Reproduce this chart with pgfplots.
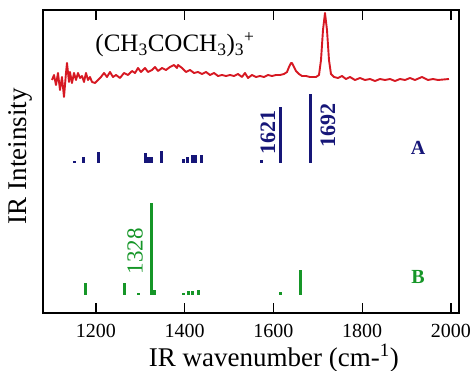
\documentclass[border=0pt]{standalone}
\usepackage{fontspec}
\setmainfont{Liberation Serif}
\usepackage{pgfplots}
\pgfplotsset{compat=1.18}
\definecolor{specred}{RGB}{214,24,34}
\definecolor{navyA}{RGB}{22,22,120}
\definecolor{greenB}{RGB}{22,150,40}
\begin{document}
\begin{tikzpicture}
\begin{axis}[
  scale only axis,
  width=416pt, height=303pt,
  xmin=1080.6, xmax=2018.1,
  ymin=0, ymax=303,
  axis line style={line width=1.4pt},
  xtick={1200,1400,1600,1800,2000},
  ytick=\empty,
  tick align=inside,
  xtick pos=both,
  major tick length=10pt,
  tick style={line width=1.2pt, black},
  /pgf/number format/assume math mode=true,
  /pgf/number format/1000 sep={},
  xticklabel style={font=\fontsize{20}{24}\selectfont, yshift=-8pt},
  xlabel={IR wavenumber (cm-\textsuperscript{1})},
  xlabel style={font=\fontsize{27}{32}\selectfont, at={(axis description cs:0.555,-0.149)}, anchor=center},
  ylabel={IR Inteinsity},
  ylabel style={font=\fontsize{27}{32}\selectfont, at={(axis description cs:-0.055,0.517)}, anchor=center},
  unbounded coords=jump,
  clip=false,
]
% measured spectrum
\addplot[specred, line width=1.9pt, line join=round] coordinates {
(1100.9,233)(1105.4,238)(1109.9,228)(1114.4,240)(1118.9,223)(1123.4,236)(1127.9,216)
(1132.4,240)(1134.7,250)(1139.2,231)(1141.4,241)(1145.9,230)(1150.5,240)(1155.0,233)
(1159.5,240)(1164.0,235)(1168.5,237)(1173.0,231)(1177.5,240)(1182.0,233)(1186.5,236)
(1191.0,231)(1197.8,230)(1204.5,233)(1211.3,236)(1218.1,240)(1224.8,236)(1231.6,241)
(1238.3,236)(1245.1,238)(1254.1,235)(1263.1,240)(1272.2,238)(1281.2,242)(1288.0,240)
(1294.7,245)(1301.4,241)(1310.5,245)(1317.2,241)(1326.2,243)(1333.0,246)(1339.8,242)
(1348.8,245)(1357.8,243)(1366.8,246)(1375.8,248)(1382.6,245)(1384.8,248)(1393.9,245)
(1402.9,241)(1411.9,243)(1420.9,240)(1429.9,241)(1438.9,239)(1448.0,241)(1457.0,238)
(1466.0,240)(1475.0,237)(1484.0,238)(1493.0,237)(1502.0,238)(1511.0,237)(1520.0,239)
(1529.0,236)(1535.8,240)(1542.6,235)(1551.6,238)(1560.6,236)(1569.6,237)(1578.6,236)
(1587.6,238)(1596.7,237)(1605.7,238)(1614.7,238)(1623.7,239)(1630.5,241)(1635.0,246)
(1639.5,250)(1641.7,250)(1646.2,246)(1650.7,242)(1657.5,239)(1664.3,237)(1673.3,237)
(1682.3,236)(1695.8,236)(1702.6,238)(1707.1,253)(1711.6,283)(1716.1,300)(1720.6,283)
(1725.1,253)(1729.6,239)(1736.4,236)(1745.4,235)(1754.4,237)(1763.4,234)(1772.4,236)
(1783.7,233)(1795.0,235)(1806.2,233)(1817.5,234)(1828.8,232)(1840.0,234)(1851.3,233)
(1862.6,234)(1873.8,232)(1885.1,234)(1896.4,233)(1907.6,235)(1918.9,233)(1934.7,236)
(1948.2,233)(1959.5,234)(1970.7,233)(1995.5,234)
};
% calculated sticks A
\addplot[navyA, line width=3pt] coordinates {
(1152.7,150)(1152.7,152.3)(1152.7,nan)
(1171.4,150)(1171.4,156.3)(1171.4,nan)
(1205.2,150)(1205.2,161.3)(1205.2,nan)
(1312.7,150)(1312.7,160.3)(1312.7,nan)
(1319.0,150)(1319.0,156.3)(1319.0,nan)
(1325.0,150)(1325.0,156.3)(1325.0,nan)
(1348.0,150)(1348.0,162.3)(1348.0,nan)
(1398.0,150)(1398.0,154)(1398.0,nan)
(1407.0,150)(1407.0,156.3)(1407.0,nan)
(1418.0,150)(1418.0,158)(1418.0,nan)
(1425.0,150)(1425.0,158)(1425.0,nan)
(1438.0,150)(1438.0,158)(1438.0,nan)
(1573.0,150)(1573.0,153)(1573.0,nan)
(1616.0,150)(1616.0,205.7)(1616.0,nan)
(1684.5,150)(1684.5,219)
};
% calculated sticks B
\addplot[greenB, line width=3pt] coordinates {
(1177.5,18)(1177.5,30.3)(1177.5,nan)
(1263.8,18)(1263.8,30.3)(1263.8,nan)
(1294.7,18)(1294.7,20)(1294.7,nan)
(1325.6,18)(1325.6,109.7)(1325.6,nan)
(1333.0,18)(1333.0,23)(1333.0,nan)
(1396.8,18)(1396.8,20)(1396.8,nan)
(1407.4,18)(1407.4,22)(1407.4,nan)
(1418.0,18)(1418.0,22)(1418.0,nan)
(1430.6,18)(1430.6,23)(1430.6,nan)
(1614.7,18)(1614.7,20.5)(1614.7,nan)
(1661.3,18)(1661.3,43)
};
\node[font=\fontsize{25}{30}\selectfont] at (axis cs:1378,268) {(CH\textsubscript{3}COCH\textsubscript{3})\textsubscript{3}\textsuperscript{+}};
\node[rotate=90, navyA, font=\fontsize{22}{26}\selectfont\bfseries] at (axis cs:1587.7,180.5) {1621};
\node[rotate=90, navyA, font=\fontsize{22}{26}\selectfont\bfseries] at (axis cs:1722.8,187.5) {1692};
\node[rotate=90, greenB, font=\fontsize{23}{27}\selectfont] at (axis cs:1287.9,61.5) {1328};
\node[navyA, font=\fontsize{20}{24}\selectfont\bfseries] at (axis cs:1925.7,165) {A};
\node[greenB, font=\fontsize{20}{24}\selectfont\bfseries] at (axis cs:1925.7,36) {B};
\end{axis}
\pgfresetboundingbox
\path[use as bounding box] (-43pt,-58pt) rectangle (432pt,313pt);
\end{tikzpicture}
\end{document}
